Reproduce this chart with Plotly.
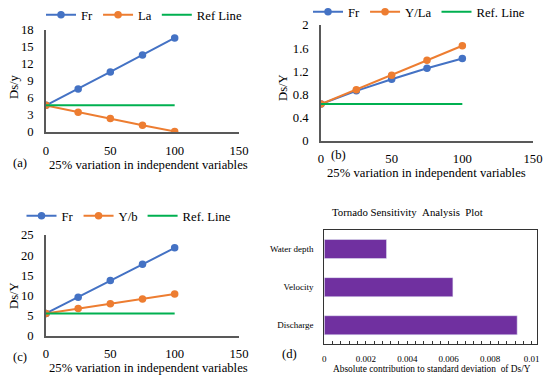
import plotly.graph_objects as go

W, H = 550, 381

# ---- data ----
x_vals = [0, 25, 50, 75, 100]

a_fr = [4.7, 7.6, 10.6, 13.6, 16.6]
a_la = [4.7, 3.5, 2.4, 1.2, 0.1]
a_ref = [4.7, 4.7, 4.7, 4.7, 4.7]

b_fr = [0.63, 0.86, 1.06, 1.25, 1.42]
b_yla = [0.63, 0.88, 1.13, 1.39, 1.64]
b_ref = [0.63, 0.63, 0.63, 0.63, 0.63]

c_fr = [5.5, 9.5, 13.7, 17.7, 21.8]
c_yb = [5.5, 6.7, 7.9, 9.1, 10.3]
c_ref = [5.5, 5.5, 5.5, 5.5, 5.5]

d_cats = ["Discharge", "Velocity", "Water depth"]
d_vals = [0.0093, 0.0062, 0.0030]

BLUE = "#4472C4"
ORANGE = "#ED7D31"
GREEN = "#00B050"
PURPLE = "#7030A0"
FONT = "Liberation Serif, Times New Roman, serif"
AXC = "#595959"
FS = 12.7


def px_x(p):
    return p / W


def px_y(p):
    return 1 - p / H


fig = go.Figure()


def add_line_panel(xa, ya, legend, names, series, colors):
    for name, ys, col in zip(names, series, colors):
        is_ref = col == GREEN
        fig.add_trace(go.Scatter(
            x=x_vals, y=ys, name=name, xaxis=xa, yaxis=ya, legend=legend,
            mode="lines" if is_ref else "lines+markers",
            line=dict(color=col, width=2),
            marker=dict(size=7.5, color=col),
        ))


add_line_panel("x", "y", "legend", ["Fr", "La", "Ref Line"], [a_fr, a_la, a_ref], [BLUE, ORANGE, GREEN])
add_line_panel("x2", "y2", "legend2", ["Fr", "Y/La", "Ref. Line"], [b_fr, b_yla, b_ref], [BLUE, ORANGE, GREEN])
add_line_panel("x3", "y3", "legend3", ["Fr", "Y/b", "Ref. Line"], [c_fr, c_yb, c_ref], [BLUE, ORANGE, GREEN])

fig.add_trace(go.Bar(
    y=d_cats, x=d_vals, orientation="h", xaxis="x4", yaxis="y4",
    marker=dict(color=PURPLE), width=0.5, showlegend=False,
))

tickfont = dict(family=FONT, size=FS, color="#000")


def xax(domain, anchor):
    return dict(domain=domain, anchor=anchor, range=[0, 150], tickvals=[0, 50, 100, 150],
                showgrid=False, zeroline=False, showline=True, linecolor=AXC, linewidth=1.5,
                ticks="", tickfont=tickfont, ticklabelstandoff=6, fixedrange=True)


def yax(domain, anchor, rng, dtick):
    return dict(domain=domain, anchor=anchor, range=rng, dtick=dtick, tick0=0,
                showgrid=False, zeroline=False, showline=True, linecolor=AXC, linewidth=1.5,
                ticks="", tickfont=tickfont, ticklabelstandoff=8, fixedrange=True)


def leg(xc, yc):
    return dict(orientation="h", x=px_x(xc), y=px_y(yc), xanchor="center", yanchor="middle",
                font=dict(family=FONT, size=FS), bgcolor="rgba(0,0,0,0)", itemwidth=30)


layout = dict(
    width=W, height=H, margin=dict(l=0, r=0, t=0, b=0, autoexpand=False),
    plot_bgcolor="white", paper_bgcolor="white",
    font=dict(family=FONT, size=FS, color="#000"),
    xaxis=xax([px_x(46), px_x(239)], "y"),
    yaxis=yax([px_y(132), px_y(30)], "x", [0, 18], 3),
    xaxis2=xax([px_x(321), px_x(533)], "y2"),
    yaxis2=yax([px_y(140.5), px_y(25)], "x2", [0, 2], 0.4),
    xaxis3=xax([px_x(46), px_x(239)], "y3"),
    yaxis3=yax([px_y(335.5), px_y(235)], "x3", [0, 25], 5),
    xaxis4=dict(domain=[px_x(324.3), px_x(537.3)], anchor="y4", range=[0, 0.01027],
                tickvals=[0, 0.002, 0.004, 0.006, 0.008, 0.01],
                ticktext=["0", "0.002", "0.004", "0.006", "0.008", "0.01"],
                showgrid=False, zeroline=False, showline=True, mirror=True,
                linecolor="#333", linewidth=1, ticks="inside", ticklen=3, tickcolor="#333",
                minor=dict(dtick=0.0004, tick0=0, ticks="inside", ticklen=3, tickcolor="#333", showgrid=False),
                tickfont=dict(family=FONT, size=9, color="#000"), ticklabelstandoff=6, fixedrange=True),
    yaxis4=dict(domain=[px_y(344.3), px_y(230)], anchor="x4", showgrid=False, zeroline=False,
                showline=True, mirror=True, linecolor="#333", linewidth=1, ticks="",
                tickfont=dict(family=FONT, size=9, color="#000"), ticklabelstandoff=8,
                categoryorder="array", categoryarray=d_cats, fixedrange=True),
    legend=leg(144, 15),
    legend2=leg(419, 12),
    legend3=leg(129, 216),
)
fig.update_layout(**layout)

ann = []


def text(x, y, s, size=FS, angle=0, xanchor="center"):
    ann.append(dict(x=px_x(x), y=px_y(y), xref="paper", yref="paper", text=s, showarrow=False,
                    textangle=angle, xanchor=xanchor, yanchor="middle",
                    font=dict(family=FONT, size=size, color="#000")))


title_x = "25% variation in independent variables"
text(148, 165, title_x)
text(426, 173, title_x)
text(148, 368, title_x)
text(14, 87, "Ds/y", angle=-90)
text(283, 88, "Ds/Y", angle=-90)
text(14, 296, "Ds/Y", angle=-90)
text(20, 163, "(a)")
text(338, 155, "(b)")
text(20, 357, "(c)")
text(289, 354, "(d)")
text(407, 212, "Tornado Sensitivity&nbsp;&nbsp;Analysis&nbsp;&nbsp;Plot", size=10.8)
text(432, 369, "Absolute contribution to standard deviation&nbsp;&nbsp;of Ds/Y", size=9.4)
fig.update_layout(annotations=ann)

fig.write_html(
    "out.html",
    config={"displayModeBar": False},
    post_script="document.body.style.margin='0';document.body.style.overflow='hidden';",
)
